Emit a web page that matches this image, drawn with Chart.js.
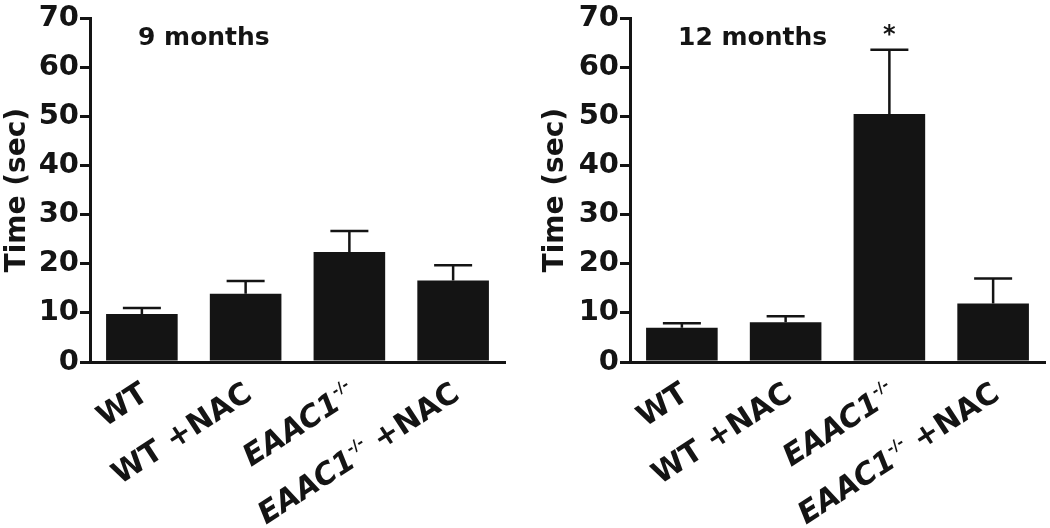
<!DOCTYPE html>
<html>
<head>
<meta charset="utf-8">
<script src="https://cdn.jsdelivr.net/npm/chart.js@4.4.1/dist/chart.umd.min.js"></script>
<style>
  html, body { margin: 0; padding: 0; background: #fff; }
  #wrap { position: relative; width: 1050px; height: 528px; }
  .panel { position: absolute; top: 0; width: 525px; height: 528px; }
  #p9 { left: 0; }
  #p12 { left: 525px; }
</style>
</head>
<body>
<div id="wrap">
  <div class="panel" id="p9"><canvas id="c9"></canvas></div>
  <div class="panel" id="p12"><canvas id="c12"></canvas></div>
</div>
<script>
// groups on the x axis (same for both panels)
const groups = ['WT', 'WT +NAC', 'EAAC1-/-', 'EAAC1-/- +NAC'];

// 9 months
const months9Mean = [9.8, 13.9, 22.4, 16.6];
const months9Sem  = [1.2, 2.6, 4.3, 3.1];
const months9Signif = ['', '', '', ''];

// 12 months
const months12Mean = [7.0, 8.1, 50.5, 11.9];
const months12Sem  = [0.9, 1.2, 13.1, 5.1];
const months12Signif = ['', '', '*', ''];

const yMin = 0, yMax = 70, yStep = 10;

const FONT = '"DejaVu Sans", "Liberation Sans", Arial, sans-serif';
const INK = '#141414';
const LABEL_ANGLE = 33 * Math.PI / 180;

// split "EAAC1-/- +NAC" into italic gene name, superscript genotype and the rest
function labelParts(text) {
  const m = text.match(/^(EAAC1)(-\/-)?(.*)$/);
  if (!m) return [{ t: text, f: 'bold 30px ' + FONT, dy: 0 }];
  return [
    { t: m[1], f: 'italic bold 30px ' + FONT, dy: 0 },
    { t: m[2] || '', f: 'bold 15px ' + FONT, dy: -13 },
    { t: m[3], f: 'bold 30px ' + FONT, dy: 0 }
  ];
}

const deco = {
  id: 'deco',
  afterDatasetsDraw(chart, args, opts) {
    const ctx = chart.ctx;
    const y = chart.scales.y;
    const x = chart.scales.x;
    const meta = chart.getDatasetMeta(0);
    const means = chart.data.datasets[0].data;

    ctx.save();
    ctx.strokeStyle = INK;
    ctx.fillStyle = INK;
    ctx.lineWidth = 2.5;

    // upper error bars
    meta.data.forEach((bar, i) => {
      const top = y.getPixelForValue(means[i] + opts.sem[i]);
      ctx.beginPath();
      ctx.moveTo(bar.x, bar.y);
      ctx.lineTo(bar.x, top);
      ctx.moveTo(bar.x - 19, top);
      ctx.lineTo(bar.x + 19, top);
      ctx.stroke();

      if (opts.signif[i]) {
        ctx.font = 'bold 24px ' + FONT;
        ctx.textAlign = 'center';
        ctx.textBaseline = 'alphabetic';
        ctx.fillText(opts.signif[i], bar.x, top - 8);
      }
    });

    // panel title inside the plot
    ctx.font = 'bold 25px ' + FONT;
    ctx.textAlign = 'left';
    ctx.textBaseline = 'middle';
    ctx.fillText(opts.title, chart.chartArea.left + 48, chart.chartArea.top + 20);

    // rotated group labels
    const axisY = chart.chartArea.bottom;
    chart.data.labels.forEach((lab, i) => {
      const cx = x.getPixelForValue(i);
      const parts = labelParts(lab);
      let total = 0;
      parts.forEach(p => { ctx.font = p.f; p.w = ctx.measureText(p.t).width; total += p.w; });
      ctx.save();
      ctx.translate(cx + 8, axisY + 36);
      ctx.rotate(-LABEL_ANGLE);
      ctx.textAlign = 'left';
      ctx.textBaseline = 'alphabetic';
      let px = -total;
      parts.forEach(p => {
        ctx.font = p.f;
        ctx.fillText(p.t, px, p.dy);
        px += p.w;
      });
      ctx.restore();
    });
    ctx.restore();
  }
};

function makePanel(canvasId, title, means, sem, signif, yWidth, pad) {
  return new Chart(document.getElementById(canvasId), {
    type: 'bar',
    data: {
      labels: groups,
      datasets: [{
        data: means,
        backgroundColor: INK,
        borderWidth: 0,
        categoryPercentage: 1.0,
        barPercentage: 0.69
      }]
    },
    options: {
      responsive: true,
      maintainAspectRatio: false,
      animation: false,
      layout: { autoPadding: false, padding: pad },
      plugins: {
        legend: { display: false },
        tooltip: { enabled: false },
        deco: { title: title, sem: sem, signif: signif }
      },
      scales: {
        x: {
          ticks: { display: false },
          grid: { display: false },
          border: { display: true, color: INK, width: 3 },
          afterFit(scale) { scale.height = 166; }
        },
        y: {
          min: yMin,
          max: yMax,
          ticks: {
            stepSize: yStep,
            color: INK,
            padding: 1,
            font: { family: FONT, size: 29, weight: 'bold' }
          },
          grid: {
            drawOnChartArea: false,
            drawTicks: true,
            tickLength: 10,
            color: INK,
            lineWidth: 3
          },
          border: { display: true, color: INK, width: 3 },
          title: {
            display: true,
            text: 'Time (sec)',
            color: INK,
            padding: { top: 1, bottom: 0 },
            font: { family: FONT, size: 28, weight: 'bold' }
          },
          afterFit(scale) { scale.width = yWidth; }
        }
      }
    },
    plugins: [deco]
  });
}

makePanel('c9', '9 months', months9Mean, months9Sem, months9Signif, 90,
  { left: 0, top: 14, right: 20, bottom: 0 });
makePanel('c12', '12 months', months12Mean, months12Sem, months12Signif, 92,
  { left: 13, top: 14, right: 5, bottom: 0 });
</script>
</body>
</html>
